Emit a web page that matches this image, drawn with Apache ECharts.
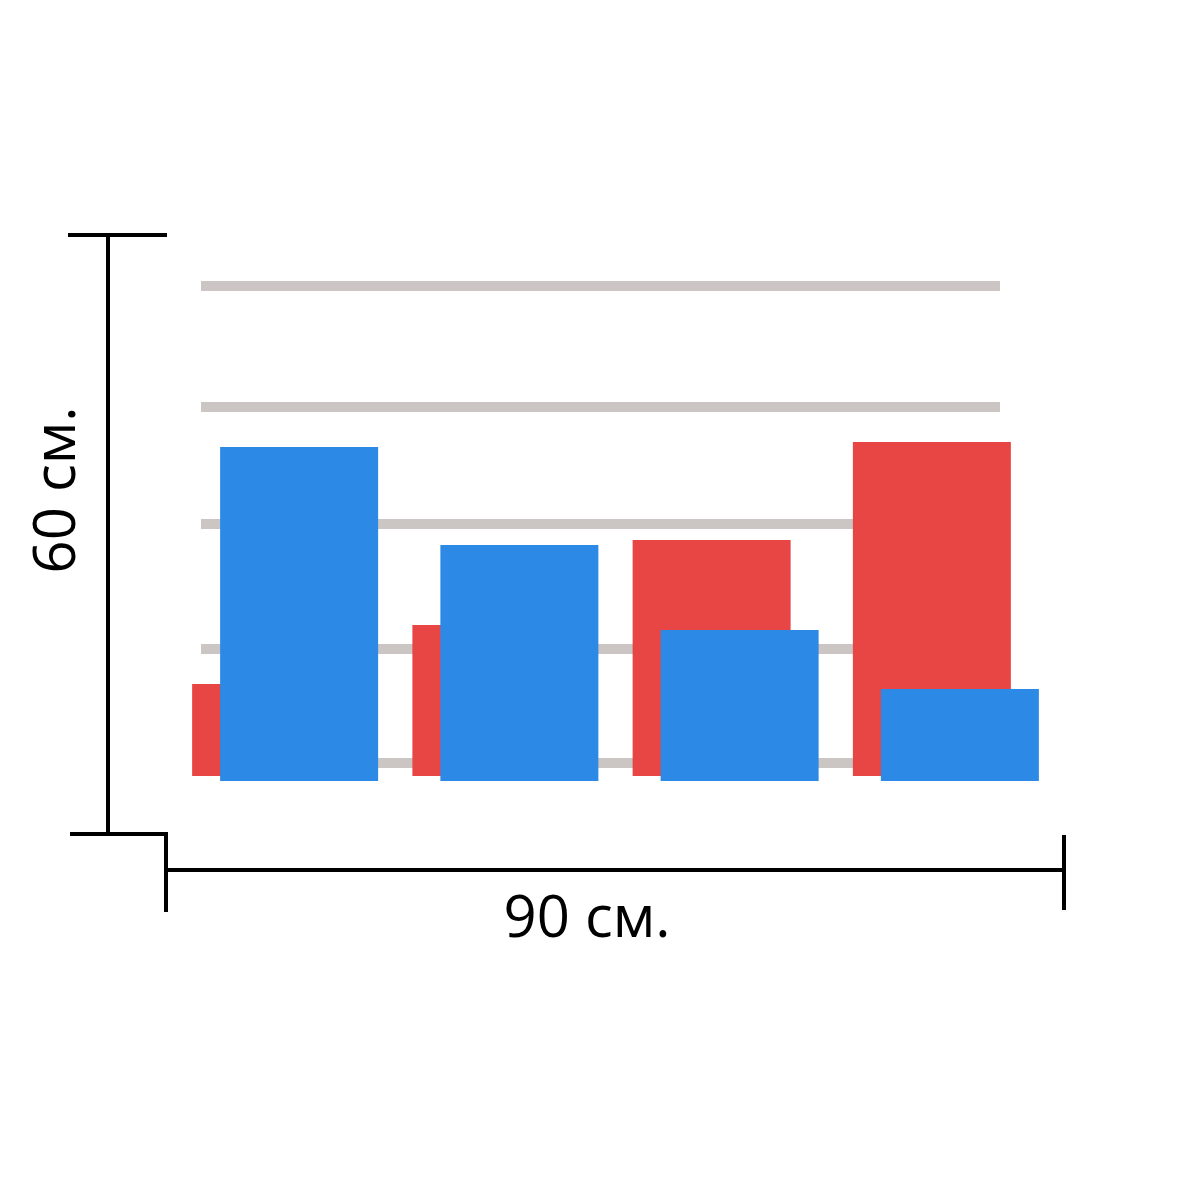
<!DOCTYPE html>
<html><head><meta charset="utf-8">
<script src="https://cdn.jsdelivr.net/npm/echarts@6/dist/echarts.min.js"></script>
<style>html,body{margin:0;padding:0;background:#fff}#c{width:1200px;height:1200px}</style>
</head><body><div id="c"></div>
<script>
var categories = ['A', 'B', 'C', 'D'];
var redValues = [92, 151, 236, 334];
var blueValues = [334, 236, 151, 92];
var gridValues = [17, 131, 256, 373, 494];
var widthLabel = '90 см.';
var heightLabel = '60 см.';

var chart = echarts.init(document.getElementById('c'), null, {renderer: 'canvas'});
var hiddenCat = function (i) {
  return {type: 'category', gridIndex: i, data: categories, show: false, boundaryGap: true};
};
var hiddenVal = function (i) {
  return {type: 'value', gridIndex: i, min: 0, max: 600, show: false, splitLine: {show: false}};
};
var lineStyle = {stroke: '#000', lineWidth: 4};
chart.setOption({
  animation: false,
  backgroundColor: '#fff',
  grid: [
    {left: 201, width: 799, top: 180, height: 600},
    {left: 161, width: 881, top: 176, height: 600},
    {left: 189, width: 881, top: 181, height: 600}
  ],
  xAxis: [hiddenCat(0), hiddenCat(1), hiddenCat(2)],
  yAxis: [hiddenVal(0), hiddenVal(1), hiddenVal(2)],
  series: [
    {
      type: 'line', xAxisIndex: 0, yAxisIndex: 0, data: [], z: 1,
      markLine: {
        silent: true, z: 1, symbol: ['none', 'none'], label: {show: false},
        lineStyle: {color: '#cbc5c3', width: 10, type: 'solid'},
        data: gridValues.map(function (v) { return {yAxis: v}; })
      }
    },
    {
      type: 'bar', xAxisIndex: 1, yAxisIndex: 1, data: redValues, barWidth: 158, z: 10,
      itemStyle: {color: '#e84545'}
    },
    {
      type: 'bar', xAxisIndex: 2, yAxisIndex: 2, data: blueValues, barWidth: 158, z: 11,
      itemStyle: {color: '#2c89e5'}
    }
  ],
  graphic: [
    {type: 'line', shape: {x1: 108, y1: 235, x2: 108, y2: 834}, style: lineStyle},
    {type: 'line', shape: {x1: 68, y1: 235, x2: 167, y2: 235}, style: lineStyle},
    {type: 'line', shape: {x1: 70, y1: 834, x2: 167, y2: 834}, style: lineStyle},
    {type: 'line', shape: {x1: 166, y1: 832, x2: 166, y2: 912}, style: lineStyle},
    {type: 'line', shape: {x1: 166, y1: 870, x2: 1064, y2: 870}, style: lineStyle},
    {type: 'line', shape: {x1: 1064, y1: 835, x2: 1064, y2: 910}, style: lineStyle},
    {type: 'text', x: 587, y: 920, style: {text: widthLabel, fill: '#000', font: '58px "Open Sans"', textAlign: 'center', textVerticalAlign: 'middle'}},
    {type: 'text', x: 58, y: 490, rotation: Math.PI / 2, style: {text: heightLabel, fill: '#000', font: '58px "Open Sans"', textAlign: 'center', textVerticalAlign: 'middle'}}
  ]
});
</script></body></html>
